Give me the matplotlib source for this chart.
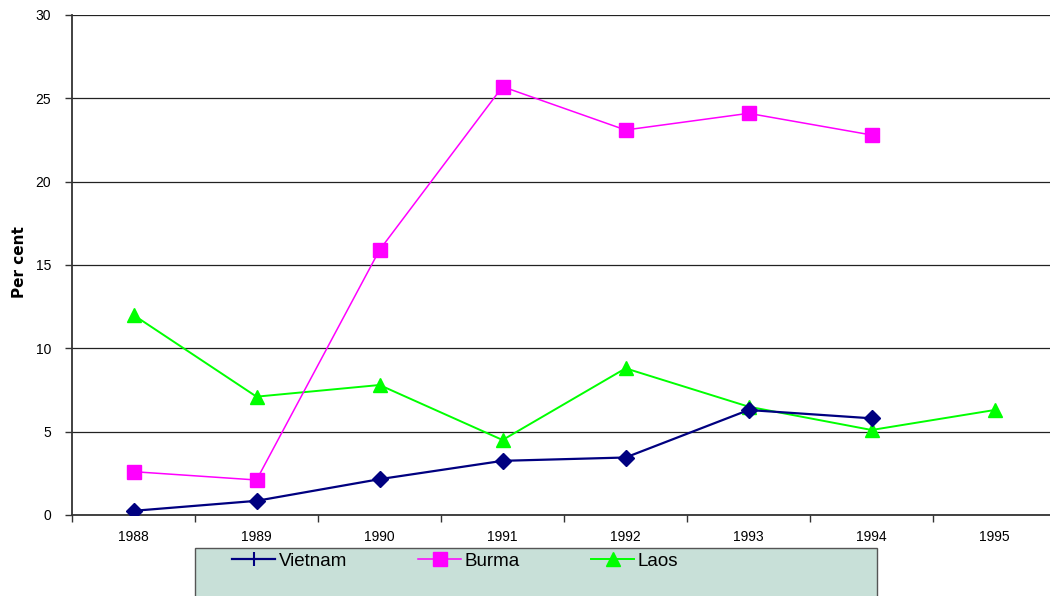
import matplotlib
matplotlib.use('Agg')
import matplotlib.pyplot as plt
from matplotlib.lines import Line2D
from matplotlib.patches import Rectangle
import numpy as np

plt.rcParams['font.family'] = ['Liberation Sans', 'DejaVu Sans']

years = ['1988', '1989', '1990', '1991', '1992', '1993', '1994', '1995']
vietnam = [0.25, 0.85, 2.15, 3.25, 3.45, 6.3, 5.8]
burma = [2.6, 2.1, 15.9, 25.7, 23.1, 24.1, 22.8]
laos = [12.0, 7.1, 7.8, 4.5, 8.8, 6.5, 5.1, 6.3]

colors = {'Vietnam': '#000080', 'Burma': '#FF00FF', 'Laos': '#00FF00'}

fig = plt.figure(figsize=(10.5, 5.96), dpi=100)
ax = fig.add_axes([72/1050, 1-515/596, 1-72/1050, 500/596])

x = np.arange(len(years))
ax.plot(x[:len(vietnam)], vietnam, color=colors['Vietnam'], lw=1.6, marker='D', ms=8, zorder=5)
ax.plot(x[:len(burma)], burma, color=colors['Burma'], lw=1.1, marker='s', ms=10.5, zorder=4)
ax.plot(x[:len(laos)], laos, color=colors['Laos'], lw=1.4, marker='^', ms=10, zorder=3)

ax.set_xlim(-0.5, 7.45)
ax.set_ylim(0, 30)
ax.set_yticks(np.arange(0, 31, 5))
ax.set_yticklabels([str(v) for v in range(0, 31, 5)], fontsize=10)
ax.set_xticks(x)
ax.set_xticklabels(years, fontsize=10)
ax.set_xticks(np.arange(-0.5, 7.5, 1), minor=True)
ax.tick_params(axis='x', which='major', length=0, pad=11)
ax.tick_params(axis='x', which='minor', length=5, width=1, color='#333333', direction='out')
ax.tick_params(axis='y', length=5, width=1, color='#333333', direction='out', pad=10)

ax.yaxis.grid(True, color='#222222', lw=0.9)
ax.set_axisbelow(True)
for s in ['top', 'right']:
    ax.spines[s].set_visible(False)
for s in ['left', 'bottom']:
    ax.spines[s].set_color('#333333')
    ax.spines[s].set_linewidth(1.3)

fig.text(19/1050, 1-262/596, 'Per cent', rotation=90, fontsize=11, fontweight='bold',
         family='DejaVu Sans', ha='center', va='center')

# legend box runs off the bottom of the figure
fig.patches.append(Rectangle((195/1050, -0.02), 682/1050, 1-548/596 + 0.02,
                             transform=fig.transFigure, facecolor='#C8E0D8',
                             edgecolor='#555555', lw=1.0, zorder=0))

handles = [
    Line2D([], [], color=colors['Vietnam'], lw=1.6, marker='|', ms=10, mew=1.5),
    Line2D([], [], color=colors['Burma'], lw=1.1, marker='s', ms=10.5),
    Line2D([], [], color=colors['Laos'], lw=1.4, marker='^', ms=10),
]
leg = fig.legend(handles, ['Vietnam', 'Burma', 'Laos'], ncol=3, loc='center left',
                 bbox_to_anchor=(232/1050, 1-561/596), fontsize=13.5, frameon=False,
                 handlelength=2.3, handletextpad=0.18, borderpad=0, borderaxespad=0,
                 columnspacing=3.8)

fig.savefig('out.png', dpi=100)
